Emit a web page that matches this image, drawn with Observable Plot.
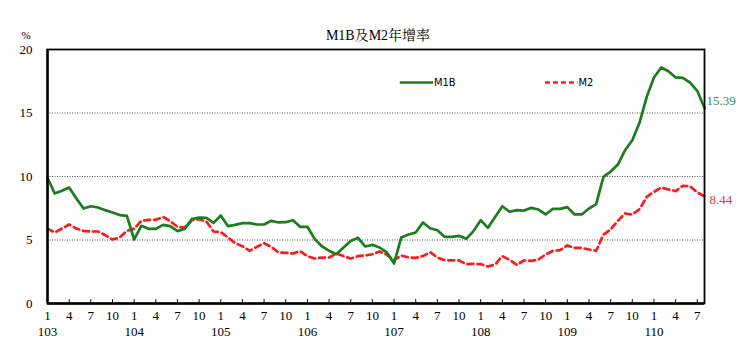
<!DOCTYPE html>
<html>
<head>
<meta charset="utf-8">
<script src="https://cdn.jsdelivr.net/npm/d3@7"></script>
<script src="https://cdn.jsdelivr.net/npm/@observablehq/plot@0.6"></script>
<style>
  html, body { margin: 0; padding: 0; background: #fff; }
  svg text { font-family: 'Liberation Serif', 'Times New Roman', 'Noto Serif CJK TC', 'Noto Sans CJK TC', serif; }
  svg g.legtxt text { font-family: 'Liberation Sans Narrow', 'DejaVu Sans Condensed', 'Liberation Sans', sans-serif; }
</style>
</head>
<body>
<div id="chart"></div>
<script>
const title = "M1B及M2年增率";
const years = [103, 104, 105, 106, 107, 108, 109, 110];
const tickMonths = [1, 4, 7, 10];
const yTicks = [0, 5, 10, 15, 20];
const seriesNames = ["M1B", "M2"];

const m1b = [
  9.90, 8.66, 8.87, 9.13, 8.27, 7.48, 7.66, 7.56, 7.35, 7.17, 6.96, 6.90,
  5.04, 6.12, 5.88, 5.88, 6.19, 6.09, 5.70, 5.88, 6.64, 6.77, 6.74, 6.35,
  6.93, 6.09, 6.19, 6.33, 6.33, 6.22, 6.22, 6.51, 6.38, 6.40, 6.56, 6.04,
  6.04, 5.09, 4.51, 4.15, 3.88, 4.41, 4.93, 5.17, 4.49, 4.62, 4.41, 4.02,
  3.15, 5.20, 5.43, 5.59, 6.38, 5.93, 5.77, 5.25, 5.25, 5.33, 5.09, 5.70,
  6.56, 5.96, 6.82, 7.66, 7.22, 7.35, 7.32, 7.53, 7.40, 7.01, 7.45, 7.45,
  7.59, 7.01, 7.01, 7.48, 7.82, 9.97, 10.39, 10.94, 12.07, 12.86, 14.23, 16.27,
  17.80, 18.58, 18.29, 17.80, 17.77, 17.40, 16.75, 15.39
];
const m2 = [
  5.90, 5.59, 5.90, 6.22, 5.90, 5.72, 5.67, 5.67, 5.38, 5.04, 5.20, 5.72,
  5.88, 6.51, 6.59, 6.59, 6.82, 6.48, 6.04, 5.98, 6.56, 6.64, 6.46, 5.67,
  5.62, 5.20, 4.75, 4.51, 4.15, 4.46, 4.75, 4.46, 4.02, 3.99, 3.94, 4.12,
  3.73, 3.54, 3.62, 3.62, 3.94, 3.73, 3.54, 3.73, 3.78, 3.88, 4.10, 3.85,
  3.41, 3.78, 3.62, 3.60, 3.73, 4.04, 3.62, 3.41, 3.39, 3.39, 3.10, 3.12,
  3.10, 2.91, 3.07, 3.73, 3.44, 3.04, 3.39, 3.36, 3.46, 3.86, 4.15, 4.20,
  4.57, 4.38, 4.38, 4.25, 4.15, 5.43, 5.83, 6.51, 7.09, 7.01, 7.43, 8.40,
  8.79, 9.13, 8.98, 8.85, 9.27, 9.24, 8.74, 8.44
];

const green = "#1b7d1b";
const red = "#ff1a1a";
const serif = "'Liberation Serif', 'Times New Roman', 'Noto Serif CJK TC', 'Noto Sans CJK TC', serif";
const narrow = "'Liberation Sans Narrow', 'DejaVu Sans Condensed', sans-serif";

const data = m1b.map((v, i) => ({ t: i, m1b: v, m2: m2[i] }));
const n = data.length;
const monthTicks = data.filter(d => tickMonths.includes(d.t % 12 + 1))
  .map(d => ({ t: d.t, label: String(d.t % 12 + 1) }));
const yearTicks = years.map((y, k) => ({ t: k * 12, label: String(y) }));
const last = data[n - 1];

// legend sample positions (data coords)
const legY = 17.4;
const legend = [
  { x1: 48.8, x2: 53.4, name: seriesNames[0] },
  { x1: 68.9, x2: 73.4, name: seriesNames[1] }
];

const chart = Plot.plot({
  width: 753,
  height: 362,
  marginLeft: 47,
  marginRight: 49,
  marginTop: 49,
  marginBottom: 59,
  x: { domain: [0, n - 1], axis: null },
  y: { domain: [0, 20], axis: null },
  style: { fontFamily: serif, fontSize: "13px", background: "#fff", color: "#000" },
  marks: [
    Plot.ruleY([5, 10, 15], { stroke: "#555", strokeWidth: 1, strokeDasharray: "1,1.5" }),
    Plot.line(data, { x: "t", y: "m2", stroke: red, strokeWidth: 2.7, strokeDasharray: "6,4" }),
    Plot.line(data, { x: "t", y: "m1b", stroke: green, strokeWidth: 2.7 }),
    Plot.frame({ stroke: "#000", strokeWidth: 1.8 }),
    Plot.ruleX([0], { stroke: "#000", strokeWidth: 2.4 }),
    Plot.ruleY([0], { stroke: "#000", strokeWidth: 2.4 }),
    Plot.ruleX(monthTicks, { x: "t", y1: 0, y2: 0.3, stroke: "#000", strokeWidth: 1 }),
    Plot.text(yTicks, { x: 0, y: d => d, text: d => String(d), textAnchor: "end", dx: -15, fontSize: 13, fontFamily: serif }),
    Plot.text(monthTicks, { x: "t", text: "label", frameAnchor: "bottom", dy: 16, fontSize: 13, fontFamily: serif }),
    Plot.text(yearTicks, { x: "t", text: "label", frameAnchor: "bottom", dy: 32, fontSize: 13, fontFamily: serif }),
    Plot.text([title], { frameAnchor: "top", dx: 2, dy: -19, fontSize: 14, fontFamily: serif }),
    Plot.text(["%"], { frameAnchor: "top-left", dx: -26, dy: -18, fontSize: 11, fontFamily: serif }),
    // legend
    Plot.link(legend.slice(0, 1), { x1: "x1", x2: "x2", y1: legY, y2: legY, stroke: green, strokeWidth: 2.6 }),
    Plot.link(legend.slice(1), { x1: "x1", x2: "x2", y1: legY, y2: legY, stroke: red, strokeWidth: 2.6, strokeDasharray: "5,3" }),
    Plot.text(legend, { x: "x2", y: legY, text: "name", textAnchor: "start", dx: 1, fontFamily: narrow, fontSize: 11, className: "legtxt" }),
    // end labels
    Plot.text([last], { x: "t", y: "m1b", text: d => d.m1b.toFixed(2), textAnchor: "start", dx: 2, dy: -7, fill: "#2e8b57", fontSize: 13, fontFamily: serif }),
    Plot.text([last], { x: "t", y: "m2", text: d => d.m2.toFixed(2), textAnchor: "start", dx: 5, dy: 4, fill: "#e8383d", fontSize: 13, fontFamily: serif })
  ]
});
document.getElementById("chart").appendChild(chart);
</script>
</body>
</html>
